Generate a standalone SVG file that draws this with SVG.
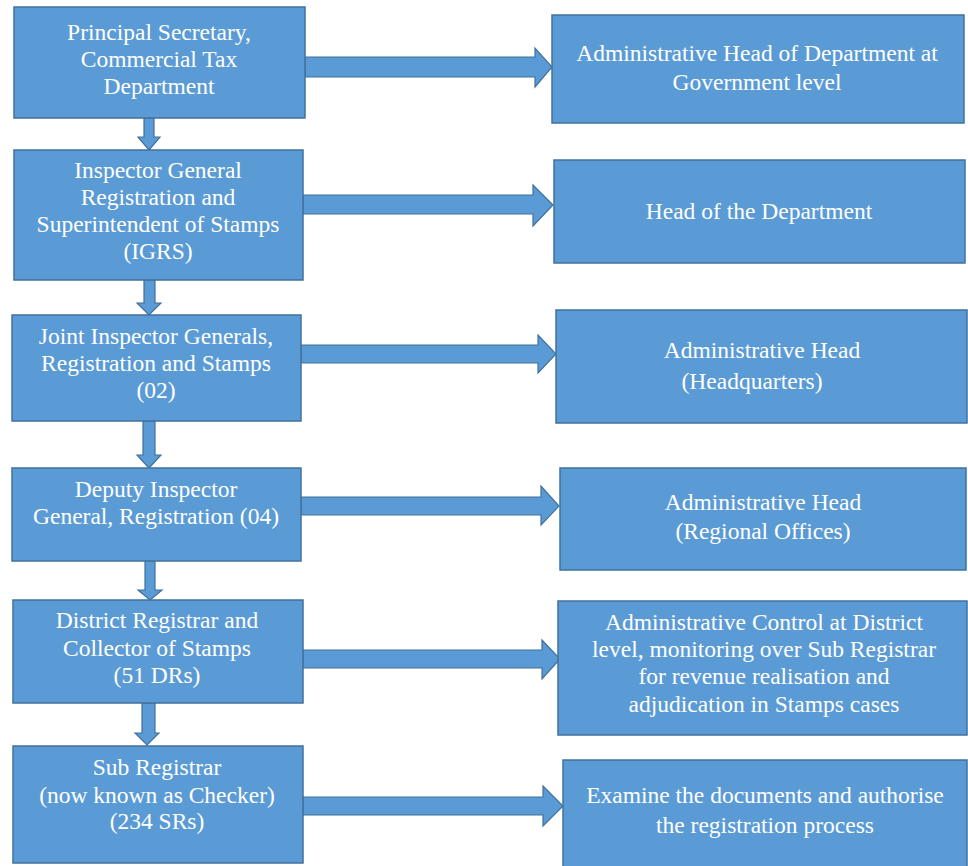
<svg xmlns="http://www.w3.org/2000/svg" width="968" height="866" viewBox="0 0 968 866">
<style>
.box{fill:#5B9BD5;stroke:#41719C;stroke-width:1.5}
.arr{fill:#5B9BD5;stroke:#41719C;stroke-width:1.2}
.t{font-size:23.5px;fill:#FFFFFF;text-anchor:middle}
</style>
<rect width="968" height="866" fill="#FFFFFF"/>
<g id="connectors">
<polygon class="arr" points="144,118 154,118 154,137 160,137 149,150 138,137 144,137"/>
<polygon class="arr" points="144,280 155,280 155,303 161,303 149,315 137,303 144,303"/>
<polygon class="arr" points="143,421 155,421 155,455 161,455 149,468 137,455 143,455"/>
<polygon class="arr" points="145,561 155,561 155,590 162,590 150,600 138,590 145,590"/>
<polygon class="arr" points="142,703 155,703 155,733 159,733 147,745 135,733 142,733"/>
<polygon class="arr" points="305,57 535,57 535,48 552,67 535,87 535,77 305,77"/>
<polygon class="arr" points="303,195 533,195 533,185 553,205 533,226 533,214 303,214"/>
<polygon class="arr" points="301,345 538,345 538,335 556,354 538,373 538,363 301,363"/>
<polygon class="arr" points="301,497 541,497 541,486 559,506 541,525 541,515 301,515"/>
<polygon class="arr" points="303,650 542,650 542,640 560,659 542,679 542,668 303,668"/>
<polygon class="arr" points="303,797 543,797 543,786 563,806 543,826 543,815 303,815"/>
</g>
<g class="t" font-family="Liberation Serif, DejaVu Serif, serif">
<g id="n1"><rect class="box" x="14" y="7" width="291" height="111"/>
<text x="159" y="40">Principal Secretary,</text><text x="159" y="67">Commercial Tax</text><text x="159" y="94">Department</text></g>
<g id="n2"><rect class="box" x="14" y="150" width="289" height="130"/>
<text x="158" y="178">Inspector General</text><text x="158" y="205">Registration and</text><text x="158" y="232">Superintendent of Stamps</text><text x="158" y="259">(IGRS)</text></g>
<g id="n3"><rect class="box" x="12" y="315" width="289" height="106"/>
<text x="156" y="344">Joint Inspector Generals,</text><text x="156" y="371">Registration and Stamps</text><text x="156" y="398">(02)</text></g>
<g id="n4"><rect class="box" x="12" y="468" width="289" height="93"/>
<text x="156" y="497">Deputy Inspector</text><text x="156" y="524">General, Registration (04)</text></g>
<g id="n5"><rect class="box" x="13" y="600" width="290" height="103"/>
<text x="157" y="628">District Registrar and</text><text x="157" y="656">Collector of Stamps</text><text x="157" y="683">(51 DRs)</text></g>
<g id="n6"><rect class="box" x="13" y="746" width="290" height="117"/>
<text x="157" y="775">Sub Registrar</text><text x="157" y="803">(now known as Checker)</text><text x="157" y="829">(234 SRs)</text></g>
<g id="r1"><rect class="box" x="552" y="15" width="412" height="108"/>
<text x="757" y="61">Administrative Head of Department at</text><text x="757" y="90">Government level</text></g>
<g id="r2"><rect class="box" x="554" y="160" width="411" height="103"/>
<text x="759" y="219">Head of the Department</text></g>
<g id="r3"><rect class="box" x="556" y="310" width="411" height="113"/>
<text x="762" y="358">Administrative Head</text><text x="752" y="389">(Headquarters)</text></g>
<g id="r4"><rect class="box" x="560" y="468" width="406" height="102"/>
<text x="763" y="510">Administrative Head</text><text x="763" y="539">(Regional Offices)</text></g>
<g id="r5"><rect class="box" x="558" y="601" width="409" height="134"/>
<text x="764" y="630">Administrative Control at District</text><text x="764" y="657">level, monitoring over Sub Registrar</text><text x="764" y="684">for revenue realisation and</text><text x="764" y="712">adjudication in Stamps cases</text></g>
<g id="r6"><rect class="box" x="563" y="760" width="404" height="110"/>
<text x="765" y="803">Examine the documents and authorise</text><text x="765" y="833">the registration process</text></g>
</g>
</svg>
